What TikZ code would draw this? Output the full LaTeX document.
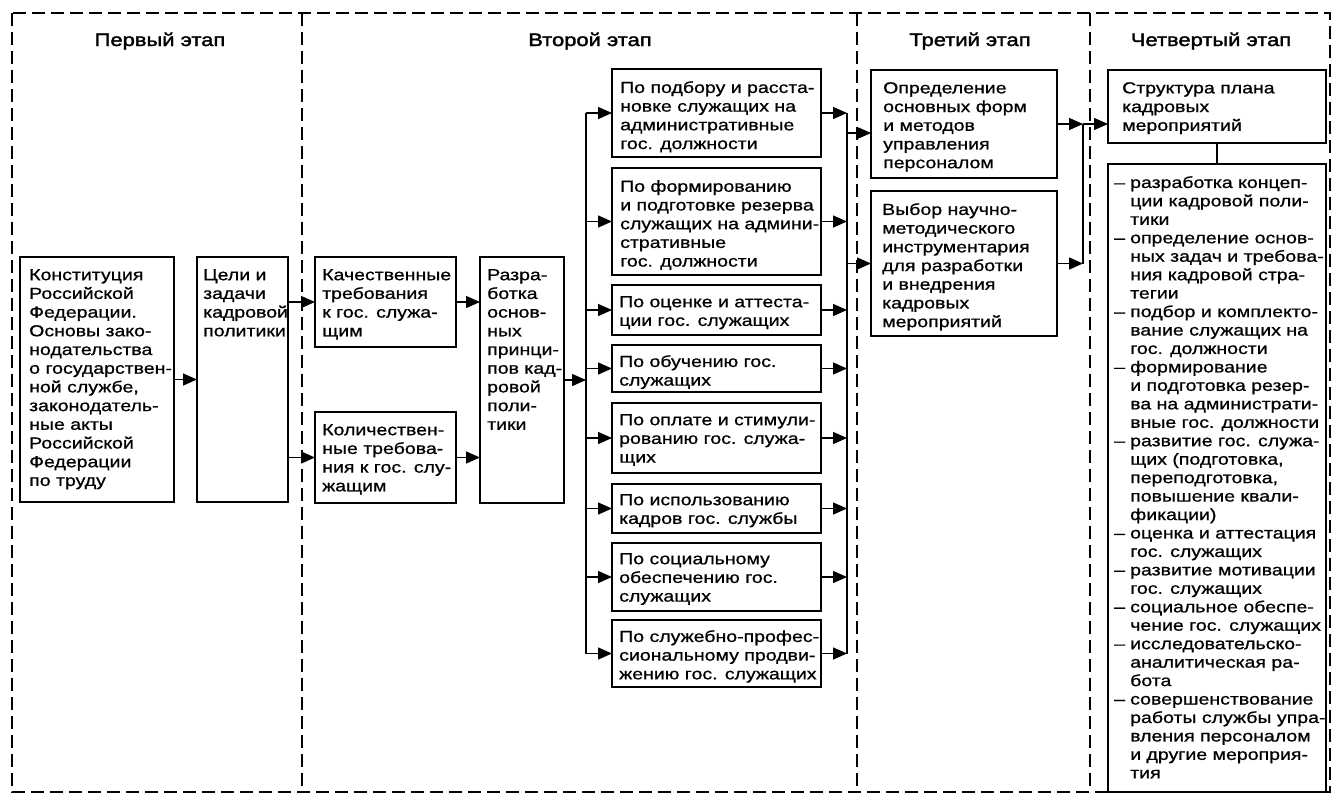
\documentclass[tikz,border=0pt]{standalone}
\usepackage{fontspec}
\setmainfont[FakeStretch=1.22,FakeBold=0.8]{Liberation Sans}
\newfontfamily\headfont[FakeStretch=1.22,FakeBold=1.8]{Liberation Sans}
\usetikzlibrary{arrows.meta}
\newcommand\itemdash{\makebox[16pt][l]{–}}
\newcommand\itemind{\hspace*{16pt}}
\begin{document}
\begin{tikzpicture}[x=1pt,y=-1pt,
  box/.style={draw, line width=1.4pt, inner sep=0pt, outer sep=0pt, anchor=north west},
  txt/.style={anchor=north west, inner sep=0pt, align=left, font=\fontsize{16}{18.7}\selectfont},
  listtxt/.style={txt, font=\fontsize{16}{18.45}\selectfont},
  head/.style={anchor=base, inner sep=0pt, font=\headfont\fontsize{18}{20}\selectfont},
  frame/.style={line width=1.7pt, dash pattern=on 13pt off 6pt},
  link/.style={line width=1.4pt},
  arr/.style={link, -{Triangle[length=14pt,width=12pt]}},
]
\useasboundingbox[fill=white] (0,0) rectangle (1334,798);

% stage frame and separators
\draw[frame] (12,13) rectangle (1330,792);
\draw[frame] (302,13) -- (302,792);
\draw[frame] (857,13) -- (857,792);
\draw[frame] (1090,13) -- (1090,792);

% stage titles
\node[head] (h1) at (160,46) {Первый этап};
\node[head] (h2) at (590,46) {Второй этап};
\node[head] (h3) at (970,46) {Третий этап};
\node[head] (h4) at (1211,46) {Четвертый этап};

% first stage
\node[box, minimum width=154pt, minimum height=245pt] (konst) at (20,257) {};
\node[txt] (konstt) at ([xshift=9pt,yshift=-12pt]konst.north west) {Конституция\\Российской\\Федерации.\\Основы зако-\\нодательства\\о государствен-\\ной службе,\\законодатель-\\ные акты\\Российской\\Федерации\\по труду};
\node[box, minimum width=91pt, minimum height=245pt] (celi) at (197,257) {};
\node[txt] (celit) at ([xshift=6pt,yshift=-12pt]celi.north west) {Цели и\\задачи\\кадровой\\политики};

% second stage: requirements and principles
\node[box, minimum width=141pt, minimum height=90pt] (kach) at (315,257) {};
\node[txt] (kacht) at ([xshift=7pt,yshift=-12pt]kach.north west) {Качественные\\требования\\к гос. служа-\\щим};
\node[box, minimum width=141pt, minimum height=91pt] (kol) at (315,412) {};
\node[txt] (kolt) at ([xshift=7pt,yshift=-12pt]kol.north west) {Количествен-\\ные требова-\\ния к гос. слу-\\жащим};
\node[box, minimum width=84pt, minimum height=246pt] (razr) at (480,257) {};
\node[txt] (razrt) at ([xshift=7pt,yshift=-12pt]razr.north west) {Разра-\\ботка\\основ-\\ных\\принци-\\пов кад-\\ровой\\поли-\\тики};

% second stage: directions of the personnel policy
\node[box, minimum width=209pt, minimum height=88pt] (pa) at (612,69) {};
\node[txt] (pat) at ([xshift=8pt,yshift=-12pt]pa.north west) {По подбору и расста-\\новке служащих на\\административные\\гос. должности};
\node[box, minimum width=209pt, minimum height=107pt] (pb) at (612,168) {};
\node[txt] (pbt) at ([xshift=8pt,yshift=-12pt]pb.north west) {По формированию\\и подготовке резерва\\служащих на админи-\\стративные\\гос. должности};
\node[box, minimum width=209pt, minimum height=50pt] (pc) at (612,285) {};
\node[txt] (pct) at ([xshift=7pt,yshift=-11pt]pc.north west) {По оценке и аттеста-\\ции гос. служащих};
\node[box, minimum width=209pt, minimum height=47pt] (pd) at (612,345) {};
\node[txt] (pdt) at ([xshift=7pt,yshift=-10pt]pd.north west) {По обучению гос.\\служащих};
\node[box, minimum width=209pt, minimum height=70pt] (pe) at (612,403) {};
\node[txt] (pet) at ([xshift=7pt,yshift=-11pt]pe.north west) {По оплате и стимули-\\рованию гос. служа-\\щих};
\node[box, minimum width=209pt, minimum height=49pt] (pf) at (612,484) {};
\node[txt] (pft) at ([xshift=7pt,yshift=-10pt]pf.north west) {По использованию\\кадров гос. службы};
\node[box, minimum width=209pt, minimum height=68pt] (pg) at (612,543) {};
\node[txt] (pgt) at ([xshift=7pt,yshift=-10pt]pg.north west) {По социальному\\обеспечению гос.\\служащих};
\node[box, minimum width=209pt, minimum height=67pt] (ph) at (612,620) {};
\node[txt] (pht) at ([xshift=7pt,yshift=-10pt]ph.north west) {По служебно-профес-\\сиональному продви-\\жению гос. служащих};

% third stage
\node[box, minimum width=186pt, minimum height=108pt] (opr) at (871,70) {};
\node[txt] (oprt) at ([xshift=12pt,yshift=-12pt]opr.north west) {Определение\\основных форм\\и методов\\управления\\персоналом};
\node[box, minimum width=186pt, minimum height=145pt] (vyb) at (871,191) {};
\node[txt] (vybt) at ([xshift=11pt,yshift=-12pt]vyb.north west) {Выбор научно-\\методического\\инструментария\\для разработки\\и внедрения\\кадровых\\мероприятий};

% fourth stage
\node[box, minimum width=218pt, minimum height=73pt] (str) at (1108,70) {};
\node[txt] (strt) at ([xshift=14pt,yshift=-12pt]str.north west) {Структура плана\\кадровых\\мероприятий};
\node[box, minimum width=218pt, minimum height=628pt] (list) at (1108,164) {};
\node[listtxt] (listt) at ([xshift=6pt,yshift=-12pt]list.north west) {%
\itemdash разработка концеп-\\
\itemind ции кадровой поли-\\
\itemind тики\\
\itemdash определение основ-\\
\itemind ных задач и требова-\\
\itemind ния кадровой стра-\\
\itemind тегии\\
\itemdash подбор и комплекто-\\
\itemind вание служащих на\\
\itemind гос. должности\\
\itemdash формирование\\
\itemind и подготовка резер-\\
\itemind ва на администрати-\\
\itemind вные гос. должности\\
\itemdash развитие гос. служа-\\
\itemind щих (подготовка,\\
\itemind переподготовка,\\
\itemind повышение квали-\\
\itemind фикации)\\
\itemdash оценка и аттестация\\
\itemind гос. служащих\\
\itemdash развитие мотивации\\
\itemind гос. служащих\\
\itemdash социальное обеспе-\\
\itemind чение гос. служащих\\
\itemdash исследовательско-\\
\itemind аналитическая ра-\\
\itemind бота\\
\itemdash совершенствование\\
\itemind работы службы упра-\\
\itemind вления персоналом\\
\itemind и другие мероприя-\\
\itemind тия};

% bus lines
\coordinate (busL) at (586,380);
\coordinate (busR) at (847,116);
\coordinate (bus3) at (1083,124);
\coordinate (oprin) at ([yshift=-9pt]opr.west);

% connectors
\draw[arr] (konst.east) -- (celi.west);
\draw[arr] (celi.east |- kach.west) -- (kach.west);
\draw[arr] (celi.east |- kol.west) -- (kol.west);
\draw[arr] (kach.east) -- (razr.west |- kach.east);
\draw[arr] (kol.east) -- (razr.west |- kol.east);
\draw[arr] (razr.east) -- (busL |- razr.east);
\draw[link] (busL |- pa.west) -- (busL |- ph.west);
\foreach \n in {pa,pb,pc,pd,pe,pf,pg,ph}{
  \draw[arr] (busL |- \n.west) -- (\n.west);
  \draw[arr] (\n.east) -- (busR |- \n.east);
}
\draw[link] (busR |- pa.east) -- (busR |- ph.east);
\draw[arr] (busR |- oprin) -- (oprin);
\draw[arr] (busR |- vyb.west) -- (vyb.west);
\draw[arr] (opr.east) -- (bus3 |- opr.east);
\draw[arr] (vyb.east) -- (bus3 |- vyb.east);
\draw[link] (bus3 |- opr.east) -- (bus3 |- vyb.east);
\draw[arr] (bus3 |- opr.east) -- (str.west |- opr.east);
\draw[link] (str.south) -- (list.north);
\end{tikzpicture}
\end{document}
